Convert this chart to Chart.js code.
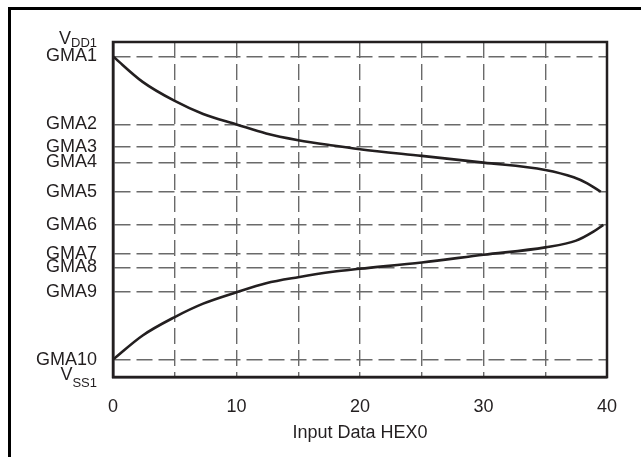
<!DOCTYPE html>
<html>
<head>
<meta charset="utf-8">
<script src="https://cdn.jsdelivr.net/npm/chart.js@4.4.1/dist/chart.umd.min.js"></script>
<style>
  html, body { margin: 0; padding: 0; background: #fff; }
  body { width: 641px; height: 457px; position: relative; overflow: hidden; }
  #frame { position: absolute; left: 8px; top: 7px; right: -5px; bottom: -5px;
           border-left: 3px solid #000; border-top: 3px solid #000; }
  #gamma { position: absolute; left: 0; top: 0; }
</style>
</head>
<body>
<div id="frame"></div>
<canvas id="gamma" width="641" height="457"></canvas>
<script>
// gamma reference levels, in % of VDD1 - VSS1
const gmaNames = ['GMA10', 'GMA9', 'GMA8', 'GMA7', 'GMA6', 'GMA5', 'GMA4', 'GMA3', 'GMA2', 'GMA1'];
const gmaLevels = [5.2, 25.4, 32.7, 36.7, 45.4, 55.3, 64.1, 68.7, 75.4, 95.7];

// input code (x) and output level for positive / negative polarity curves
const upperCodes = [0, 2.4, 5, 7.3, 10, 12.4, 15, 17.8, 20, 25, 30, 35, 37.3, 38.4, 39.5];
const upperLevels = [95.7, 88.1, 82.4, 78.5, 75.4, 72.7, 70.7, 69.1, 68.0, 66.0, 64.0, 61.8, 59.6, 57.8, 55.3];
const lowerCodes = [0, 2.4, 5, 7.3, 10, 12.4, 15, 17.8, 20, 25, 30, 35, 37.5, 38.9, 39.7];
const lowerLevels = [5.2, 12.4, 17.9, 21.9, 25.3, 28.0, 29.8, 31.4, 32.3, 34.2, 36.5, 38.7, 40.7, 43.4, 45.4];

const xTickLabels = ['0', '10', '20', '30', '40'];

const ink = '#231f20';
const gridInk = '#6a6a6a';
const font = '"Liberation Sans", Arial, Helvetica, sans-serif';

function toPoints(xs, ys) {
    return xs.map((x, i) => ({ x: x, y: ys[i] }));
}

// top/right edges of the plot box plus the subscripted supply labels
const frameAndSupply = {
    id: 'frameAndSupply',
    beforeDatasetsDraw(chart) {
        const a = chart.chartArea;
        const c = chart.ctx;
        c.save();
        c.strokeStyle = ink;
        c.lineWidth = 2.5;
        c.setLineDash([]);
        c.strokeRect(a.left, a.top, a.right - a.left, a.bottom - a.top);
        c.restore();
    },
    afterDraw(chart) {
        const c = chart.ctx;
        const y = chart.scales.y;
        const right = chart.chartArea.left - 16;
        const drawSupply = (sub, value, vOff, subOff) => {
            const py = y.getPixelForValue(value);
            c.save();
            c.fillStyle = ink;
            c.textAlign = 'right';
            c.textBaseline = 'alphabetic';
            c.font = '13px ' + font;
            c.fillText(sub, right, py + subOff);
            const subW = c.measureText(sub).width;
            c.font = '18px ' + font;
            c.fillText('V', right - subW, py + vOff);
            c.restore();
        };
        drawSupply('DD1', 100, 1.5, 5);
        drawSupply('SS1', 0, 2.5, 9.5);
    }
};

new Chart(document.getElementById('gamma'), {
    type: 'scatter',
    data: {
        datasets: [{
            label: 'upper',
            data: toPoints(upperCodes, upperLevels),
            showLine: true,
            borderColor: ink,
            borderWidth: 2.6,
            pointRadius: 0,
            cubicInterpolationMode: 'monotone'
        }, {
            label: 'lower',
            data: toPoints(lowerCodes, lowerLevels),
            showLine: true,
            borderColor: ink,
            borderWidth: 2.6,
            pointRadius: 0,
            cubicInterpolationMode: 'monotone'
        }]
    },
    options: {
        responsive: false,
        animation: false,
        layout: { padding: { top: 42, right: 34, left: 0, bottom: 0 } },
        plugins: {
            legend: { display: false },
            tooltip: { enabled: false }
        },
        scales: {
            x: {
                type: 'linear',
                min: 0,
                max: 40,
                afterFit: (axis) => { axis.height = 80; },
                grid: {
                    color: gridInk,
                    lineWidth: 1.4,
                    drawTicks: false
                },
                border: { display: true, color: ink, width: 2.5, dash: [16, 6] },
                ticks: {
                    stepSize: 5,
                    autoSkip: false,
                    maxRotation: 0,
                    padding: 19,
                    color: ink,
                    font: { family: font, size: 18 },
                    callback: (v) => (v % 10 === 0 ? xTickLabels[v / 10] : '')
                },
                title: {
                    display: true,
                    text: 'Input Data HEX0',
                    color: ink,
                    font: { family: font, size: 18 },
                    padding: { top: 4, bottom: 13 }
                }
            },
            y: {
                type: 'linear',
                min: 0,
                max: 100,
                afterFit: (axis) => { axis.width = 113; },
                afterBuildTicks: (axis) => {
                    axis.ticks = gmaLevels.map((v) => ({ value: v }));
                },
                grid: {
                    color: gridInk,
                    lineWidth: 1.4,
                    drawTicks: false
                },
                border: { display: true, color: ink, width: 2.5, dash: [16, 6] },
                ticks: {
                    autoSkip: false,
                    padding: 16,
                    color: ink,
                    font: { family: font, size: 18 },
                    callback: (v, i) => gmaNames[i]
                }
            }
        }
    },
    plugins: [frameAndSupply]
});
</script>
</body>
</html>
